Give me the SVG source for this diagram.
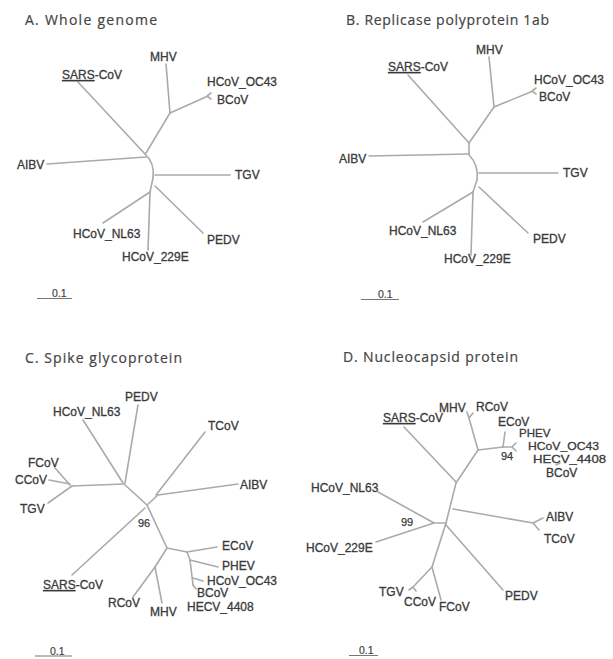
<svg xmlns="http://www.w3.org/2000/svg" width="613" height="659" viewBox="0 0 613 659">
<style>
.t{font-family:"Open Sans","Liberation Sans",sans-serif;font-size:14px;fill:#444;stroke:#444;stroke-width:0.2;}
.l{font-family:"Liberation Sans",Arial,sans-serif;font-size:12px;fill:#3a3a3a;stroke:#3a3a3a;stroke-width:0.3;}
.c{font-size:11.5px;}
.b{font-family:"Liberation Sans",Arial,sans-serif;font-size:11px;fill:#3a3a3a;stroke:#3a3a3a;stroke-width:0.25;}
.s{font-family:"Liberation Sans",Arial,sans-serif;font-size:10.5px;fill:#444;stroke:#444;stroke-width:0.2;}
.e{fill:none;stroke:#aaa;stroke-width:1.6;stroke-linecap:round;}
.sb{fill:none;stroke:#777;stroke-width:1;}
.u{text-decoration:underline;}
</style>
<rect width="613" height="659" fill="#fff"/>

<!-- Panel A -->
<g id="panelA">
<text class="t" x="25" y="25" textLength="132" lengthAdjust="spacing">A. Whole genome</text>
<g id="A-connectors" class="e">
<path d="M78,82 L145,154"/>
<path d="M166,64 L170,113"/>
<path d="M170,113 L208,96 M207,96 L211,93 M207,96 L211,99"/>
<path d="M170,113 L146,153"/>
<path d="M47,164 L146,157"/>
<path d="M145,154 Q155,163 153,178"/>
<path d="M155,175 L230,175"/>
<path d="M153,178 L150,192"/>
<path d="M150,192 L103,223"/>
<path d="M150,192 L148,250"/>
<path d="M155,186 L203,233"/>
</g>
<g id="A-MHV"><text class="l" x="150" y="61">MHV</text></g>
<g id="A-SARS"><text class="l" x="62" y="79"><tspan class="u">SARS</tspan>-CoV</text></g>
<g id="A-OC43"><text class="l" x="207" y="86">HCoV_OC43</text></g>
<g id="A-BCoV"><text class="l" x="217" y="104">BCoV</text></g>
<g id="A-AIBV"><text class="l" x="17" y="169">AIBV</text></g>
<g id="A-TGV"><text class="l" x="235" y="179">TGV</text></g>
<g id="A-NL63"><text class="l" x="73" y="238">HCoV_NL63</text></g>
<g id="A-PEDV"><text class="l" x="207" y="244">PEDV</text></g>
<g id="A-229E"><text class="l" x="122" y="261">HCoV_229E</text></g>
<g id="A-scale"><path class="sb" d="M37,298.5 H72"/><text class="s" x="52" y="297">0.1</text></g>
</g>

<!-- Panel B -->
<g id="panelB">
<text class="t" x="346" y="25" textLength="203" lengthAdjust="spacing">B. Replicase polyprotein 1ab</text>
<g id="B-connectors" class="e">
<path d="M408,75 L469,143"/>
<path d="M489,57 L494,107"/>
<path d="M494,107 L533,91 M532,91 L536,88 M532,91 L536,94"/>
<path d="M494,107 L469,143"/>
<path d="M369,156 L469,154"/>
<path d="M469,143 L469,155 Q479,165 477,180"/>
<path d="M479,173 L558,173"/>
<path d="M477,180 L473,192"/>
<path d="M473,192 L423,222"/>
<path d="M473,192 L471,255"/>
<path d="M479,187 L528,233"/>
</g>
<g id="B-MHV"><text class="l" x="476" y="54">MHV</text></g>
<g id="B-SARS"><text class="l" x="388" y="71"><tspan class="u">SARS</tspan>-CoV</text></g>
<g id="B-OC43"><text class="l" x="534" y="84">HCoV_OC43</text></g>
<g id="B-BCoV"><text class="l" x="539" y="101">BCoV</text></g>
<g id="B-AIBV"><text class="l" x="339" y="163">AIBV</text></g>
<g id="B-TGV"><text class="l" x="563" y="177">TGV</text></g>
<g id="B-NL63"><text class="l" x="389" y="235">HCoV_NL63</text></g>
<g id="B-PEDV"><text class="l" x="533" y="243">PEDV</text></g>
<g id="B-229E"><text class="l" x="444" y="263">HCoV_229E</text></g>
<g id="B-scale"><path class="sb" d="M361,299.5 H399"/><text class="s" x="378" y="298">0.1</text></g>
</g>

<!-- Panel C -->
<g id="panelC">
<text class="t" x="25" y="363" textLength="157" lengthAdjust="spacing">C. Spike glycoprotein</text>
<g id="C-connectors" class="e">
<path d="M83,420 L123,483"/>
<path d="M138,405 L125,483"/>
<path d="M72,486 L124,484"/>
<path d="M55,468 L70,485"/>
<path d="M49,480 L70,484"/>
<path d="M48,503 L72,486"/>
<path d="M124,484 L147,505"/>
<path d="M205,432 L156,495"/>
<path d="M238,484 L158,495"/>
<path d="M158,495 L147,505"/>
<path d="M145,508 L72,575"/>
<path d="M147,505 L167,548"/>
<path d="M167,548 L155,567"/>
<path d="M155,567 L133,597"/>
<path d="M155,567 L162,603"/>
<path d="M167,548 L187,552"/>
<path d="M187,552 L217,547"/>
<path d="M187,552 L190,560"/>
<path d="M190,560 L218,567"/>
<path d="M190,560 L193,585"/>
<path d="M193,578 L203,581"/>
<path d="M193,585 L196,589"/>
</g>
<g id="C-PEDV"><text class="l" x="125" y="401">PEDV</text></g>
<g id="C-NL63"><text class="l" x="53" y="416">HCoV_NL63</text></g>
<g id="C-TCoV"><text class="l" x="208" y="430">TCoV</text></g>
<g id="C-FCoV"><text class="l" x="28" y="467">FCoV</text></g>
<g id="C-CCoV"><text class="l" x="15" y="484">CCoV</text></g>
<g id="C-AIBV"><text class="l" x="240" y="489">AIBV</text></g>
<g id="C-TGV"><text class="l" x="20" y="513">TGV</text></g>
<g id="C-96"><text class="b" x="138" y="527">96</text></g>
<g id="C-ECoV"><text class="l" x="222" y="550">ECoV</text></g>
<g id="C-PHEV"><text class="l" x="222" y="570">PHEV</text></g>
<g id="C-OC43"><text class="l" x="207" y="585">HCoV_OC43</text></g>
<g id="C-BCoV"><text class="l" x="197" y="597">BCoV</text></g>
<g id="C-HECV"><text class="l" x="187" y="611">HECV_4408</text></g>
<g id="C-SARS"><text class="l" x="43" y="589"><tspan class="u">SARS</tspan>-CoV</text></g>
<g id="C-RCoV"><text class="l" x="108" y="607">RCoV</text></g>
<g id="C-MHV"><text class="l" x="150" y="616">MHV</text></g>
<g id="C-scale"><path class="sb" d="M35,656 H72"/><text class="s" x="50" y="654.5">0.1</text></g>
</g>

<!-- Panel D -->
<g id="panelD">
<text class="t" x="343" y="362" textLength="175" lengthAdjust="spacing">D. Nucleocapsid protein</text>
<g id="D-connectors" class="e">
<path d="M404,427 L456,482"/>
<path d="M467,412 L469,418 M473,413 L469,418"/>
<path d="M469,418 L478,450"/>
<path d="M478,450 L503,447"/>
<path d="M503,447 L505,432"/>
<path d="M503,447 L512,447 M512,447 L516,443 M512,447 L516,451"/>
<path d="M556,465 L560,463"/>
<path d="M478,450 L456,483"/>
<path d="M456,483 L446,523 L432,567"/>
<path d="M453,509 L533,523"/>
<path d="M533,523 L543,518"/>
<path d="M533,523 L539,530"/>
<path d="M378,492 L434,523"/>
<path d="M376,542 L434,523"/>
<path d="M434,523 L446,523"/>
<path d="M446,525 L503,590"/>
<path d="M432,567 L413,587 M413,587 L409,590 M413,587 L416,591"/>
<path d="M432,567 L441,600"/>
</g>
<g id="D-SARS"><text class="l" x="383" y="422"><tspan class="u">SARS</tspan>-CoV</text></g>
<g id="D-MHV"><text class="l" x="439" y="412">MHV</text></g>
<g id="D-RCoV"><text class="l" x="476" y="411">RCoV</text></g>
<g id="D-ECoV"><text class="l" x="498" y="426">ECoV</text></g>
<g id="D-PHEV"><text class="l c" x="519" y="437">PHEV</text></g>
<g id="D-OC43"><text class="l c" x="528" y="450" textLength="71" lengthAdjust="spacingAndGlyphs">HCoV_OC43</text></g>
<g id="D-HECV"><text class="l c" x="533" y="463" textLength="73" lengthAdjust="spacingAndGlyphs">HECV_4408</text></g>
<g id="D-BCoV"><text class="l" x="546" y="477">BCoV</text></g>
<g id="D-94"><text class="b" x="501" y="460">94</text></g>
<g id="D-NL63"><text class="l" x="311" y="492">HCoV_NL63</text></g>
<g id="D-99"><text class="b" x="401" y="526">99</text></g>
<g id="D-229E"><text class="l" x="306" y="552">HCoV_229E</text></g>
<g id="D-AIBV"><text class="l" x="546" y="521">AIBV</text></g>
<g id="D-TCoV"><text class="l" x="544" y="543">TCoV</text></g>
<g id="D-PEDV"><text class="l" x="505" y="600">PEDV</text></g>
<g id="D-TGV"><text class="l" x="379" y="596">TGV</text></g>
<g id="D-CCoV"><text class="l" x="404" y="606">CCoV</text></g>
<g id="D-FCoV"><text class="l" x="439" y="611">FCoV</text></g>
<g id="D-scale"><path class="sb" d="M349,655.5 H378"/><text class="s" x="359" y="654">0.1</text></g>
</g>
</svg>
